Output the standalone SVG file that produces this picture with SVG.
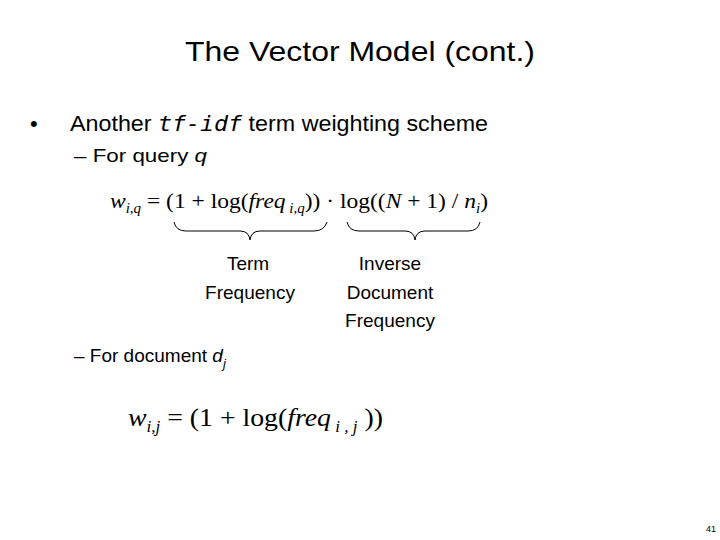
<svg xmlns="http://www.w3.org/2000/svg" width="720" height="540" viewBox="0 0 720 540">
<style>
.s{font-family:"Liberation Sans",Arial,sans-serif;fill:#000}
.m{font-family:"Liberation Serif","Times New Roman",serif;fill:#000}
.b{fill:none;stroke:#000;stroke-width:1}
</style>
<rect width="720" height="540" fill="#fff"/>
<text class="s" x="360" y="61" font-size="28" text-anchor="middle" textLength="350" lengthAdjust="spacingAndGlyphs">The Vector Model (cont.)</text>
<text class="s" x="30" y="131" font-size="22">•</text>
<text class="s" x="70" y="131" font-size="22" textLength="418" lengthAdjust="spacingAndGlyphs">Another <tspan font-family="DejaVu Sans Mono,monospace" font-style="italic">tf-idf</tspan> term weighting scheme</text>
<text class="s" x="74" y="162" font-size="19" textLength="133" lengthAdjust="spacingAndGlyphs">– For query <tspan font-style="italic">q</tspan></text>
<text class="m" x="110" y="208" font-size="22" textLength="378" lengthAdjust="spacingAndGlyphs"><tspan font-style="italic">w</tspan><tspan font-size="14" font-style="italic" dy="5">i,q</tspan><tspan dy="-5"> = (1 + log(</tspan><tspan font-style="italic">freq</tspan><tspan font-size="14" font-style="italic" dy="5"> i,q</tspan><tspan dy="-5">)) · log((</tspan><tspan font-style="italic">N</tspan><tspan> + 1) / </tspan><tspan font-style="italic">n</tspan><tspan font-size="14" font-style="italic" dy="5">i</tspan><tspan dy="-5">)</tspan></text>
<g id="braces">
<path class="b" d="M174,222 Q176,231 186,231 L240,231 Q249,231 250,240 Q251,231 260,231 L314,231 Q324,231 327,222"/>
<path class="b" d="M347,222 Q349,231 359,231 L405,231 Q414,231 415,240 Q416,231 425,231 L468,231 Q478,231 480,222"/>
</g>
<text class="s" x="248" y="270" font-size="19" text-anchor="middle">Term</text>
<text class="s" x="250" y="299" font-size="19" text-anchor="middle">Frequency</text>
<text class="s" x="390" y="270" font-size="19" text-anchor="middle">Inverse</text>
<text class="s" x="390" y="299" font-size="19" text-anchor="middle">Document</text>
<text class="s" x="390" y="327" font-size="19" text-anchor="middle">Frequency</text>
<text class="s" x="74" y="362" font-size="19">– For document <tspan font-style="italic">d</tspan><tspan font-size="13" font-style="italic" dy="6">j</tspan></text>
<text class="m" x="128" y="426" font-size="26" textLength="255" lengthAdjust="spacingAndGlyphs"><tspan font-style="italic">w</tspan><tspan font-size="16" font-style="italic" dy="6">i,j</tspan><tspan dy="-6"> = (1 + log(</tspan><tspan font-style="italic">freq</tspan><tspan font-size="16" font-style="italic" dy="6"> i , j</tspan><tspan dy="-6"> ))</tspan></text>
<text class="s" x="716" y="532" font-size="9" text-anchor="end">41</text>
</svg>
